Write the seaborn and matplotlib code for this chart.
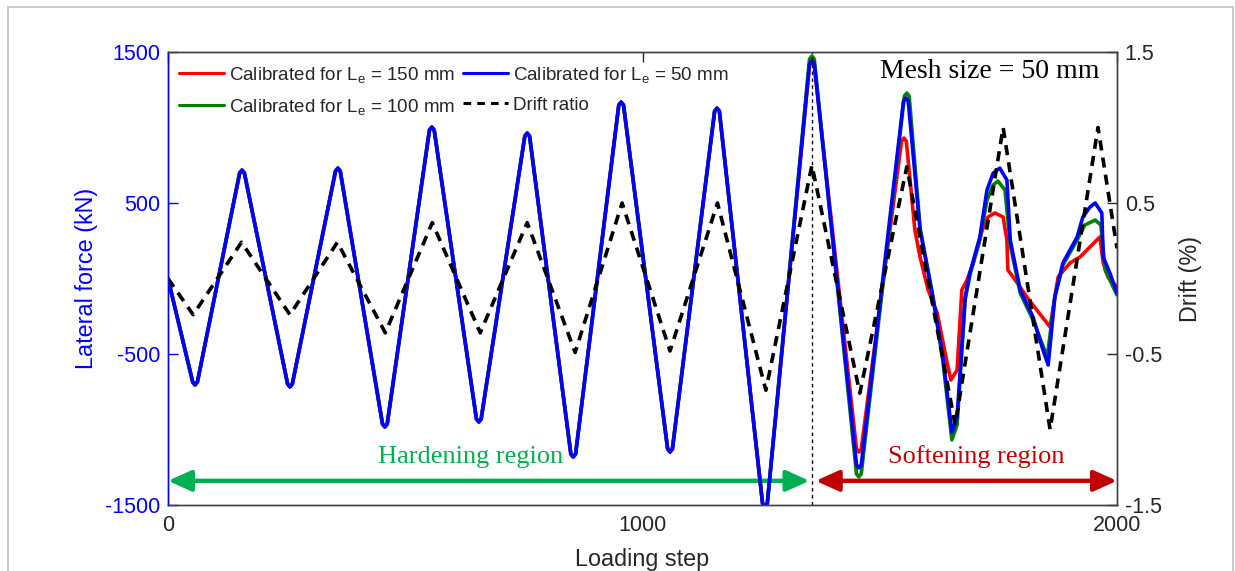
import matplotlib
matplotlib.use("Agg")
import matplotlib.pyplot as plt
import seaborn as sns
from matplotlib.patches import FancyArrowPatch, Rectangle
from matplotlib.lines import Line2D

# ---------------- data ----------------
# hardening region: the three calibrations coincide
hard_steps = [0, 52, 57, 62, 151, 156, 161, 252, 257, 262, 353, 358, 363,
              452, 457, 462, 551, 556, 561, 650, 655, 660, 752, 757, 762,
              849, 854, 859, 950, 955, 960, 1053, 1058, 1063, 1152, 1157, 1162,
              1253, 1258, 1263]
hard_force = [0, -685, -705, -685, 698, 718, 698, -698, -718, -698, 711, 731, 711,
              -963, -983, -963, 983, 1003, 983, -930, -950, -930, 943, 963, 943,
              -1162, -1182, -1162, 1148, 1168, 1148, -1129, -1149, -1129, 1108, 1128, 1108,
              -1490, -1510, -1490]

# softening region, Le = 50 mm (blue)
soft_steps_50 = [1352, 1357, 1362, 1451, 1456, 1461, 1550, 1555, 1560, 1585, 1612, 1633, 1652,
                 1663, 1680, 1690, 1711, 1726, 1739, 1753, 1768, 1775, 1796, 1823, 1844, 1855,
                 1869, 1886, 1901, 1916, 1928, 1943, 1954, 1968, 1971, 1985, 2000]
soft_force_50 = [1423, 1443, 1423, -1234, -1254, -1234, 1175, 1195, 1175, 321, -122, -520, -1016,
                 -917, -122, 36, 275, 586, 698, 731, 652, 255, -76, -255, -473, -573,
                 -122, 103, 189, 275, 407, 473, 500, 434, 142, 36, -96]

# softening region, Le = 100 mm (green)
soft_steps_100 = [1352, 1357, 1362, 1451, 1456, 1461, 1552, 1557, 1562, 1585, 1612, 1633, 1652,
                  1663, 1680, 1690, 1711, 1726, 1739, 1749, 1764, 1775, 1796, 1823, 1853, 1869,
                  1886, 1916, 1932, 1954, 1966, 1975, 2000]
soft_force_100 = [1453, 1473, 1453, -1294, -1314, -1294, 1208, 1228, 1208, 335, -122, -545, -1069,
                  -970, -142, 23, 255, 520, 619, 645, 586, 222, -96, -275, -520, -122,
                  89, 255, 354, 387, 354, 56, -109]

# softening region, Le = 150 mm (red)
soft_steps_150 = [1352, 1357, 1362, 1451, 1456, 1461, 1546, 1551, 1556, 1574, 1585, 1602, 1621,
                  1642, 1650, 1663, 1673, 1684, 1697, 1716, 1728, 1743, 1760, 1768, 1770, 1781,
                  1810, 1831, 1859, 1869, 1876, 1901, 1922, 1964, 1971, 1981, 2000]
soft_force_150 = [1413, 1433, 1413, -1129, -1149, -1129, 910, 930, 910, 321, 142, -76, -228,
                  -559, -672, -606, -76, -10, 103, 321, 407, 434, 407, 255, 56, 10,
                  -122, -209, -321, -122, 10, 103, 142, 275, 103, 10, -56]

# imposed drift ratio (%)
drift_steps = [0, 53, 155, 257, 357, 458, 557, 658, 757, 858, 957, 1058, 1158, 1260, 1357,
               1458, 1557, 1659, 1760, 1859, 1960, 2000]
drift_pct = [0, -0.24, 0.24, -0.24, 0.24, -0.36, 0.37, -0.36, 0.37, -0.49, 0.5, -0.48, 0.5,
             -0.74, 0.75, -0.76, 0.74, -0.97, 1.0, -1.0, 1.0, 0.2]

labels = ["Calibrated for L$_\\mathregular{e}$ = 150 mm",
          "Calibrated for L$_\\mathregular{e}$ = 100 mm",
          "Calibrated for L$_\\mathregular{e}$ = 50 mm",
          "Drift ratio"]
x_ticks = [0, 1000, 2000]
force_ticks = [-1500, -500, 500, 1500]
drift_ticks = [-1.5, -0.5, 0.5, 1.5]
transition_step = 1357

# ---------------- style ----------------
sns.set_theme(style="white")
plt.rcParams['font.family'] = ['Liberation Sans', 'DejaVu Sans']
plt.rcParams['mathtext.fontset'] = 'custom'
plt.rcParams['mathtext.rm'] = 'Liberation Sans'
plt.rcParams['mathtext.it'] = 'Liberation Sans:italic'

RED, GREEN, BLUE = '#FF0000', '#008000', '#0000FF'
GRAY = '#262626'

W, H = 1235, 571
fig = plt.figure(figsize=(W / 100, H / 100), dpi=100)
ax = fig.add_axes([168 / W, 1 - 505 / H, 949 / W, 453 / H])
ax2 = ax.twinx()

lw = 2.6
series = [
    (hard_steps + soft_steps_150, hard_force + soft_force_150, RED),
    (hard_steps + soft_steps_100, hard_force + soft_force_100, GREEN),
    (hard_steps + soft_steps_50, hard_force + soft_force_50, BLUE),
]
for xs, ys, c in series:
    sns.lineplot(x=xs, y=ys, ax=ax, color=c, linewidth=lw, estimator=None,
                 sort=False, legend=False)
    ax.lines[-1].set_solid_joinstyle('round')

sns.lineplot(x=drift_steps, y=drift_pct, ax=ax2, color='black', linewidth=lw,
             estimator=None, sort=False, legend=False)
ax2.lines[-1].set_linestyle((0, (2.8, 2.0)))

ax.set_xlim(0, 2000)
ax.set_ylim(-1500, 1500)
ax2.set_ylim(-1.5, 1.5)
ax.set_xticks(x_ticks)
ax.set_xticklabels([str(t) for t in x_ticks])
ax.set_yticks(force_ticks)
ax.set_yticklabels([str(t) for t in force_ticks])
ax2.set_yticks(drift_ticks)
ax2.set_yticklabels([str(t) for t in drift_ticks])

# ticks and spines
TS = 15.5
ax.tick_params(axis='x', direction='in', length=7, width=1, colors=GRAY,
               labelsize=TS, pad=7.5, top=True)
ax.tick_params(axis='y', direction='in', length=7, width=1, colors=BLUE,
               labelsize=TS, pad=5.5)
ax2.tick_params(axis='y', direction='in', length=7, width=1, colors=GRAY,
                labelsize=TS, pad=5.5)
for a in (ax, ax2):
    for s in a.spines.values():
        s.set_color('#404040')
        s.set_linewidth(1.0)
    a.spines['left'].set_color(BLUE)

LS = 16.8
ax.set_xlabel("Loading step", fontsize=LS, color=GRAY, labelpad=8)
ax.set_ylabel("Lateral force (kN)", fontsize=LS, color=BLUE, labelpad=5)
ax2.set_ylabel("Drift (%)", fontsize=LS, color=GRAY, labelpad=12)

# transition line
ax.axvline(transition_step, color='black', lw=1.0, ls=(0, (2.5, 2.5)))

# region arrows and labels
arrow_y = -1340
for x0, x1, c in [(0, 1352, '#00B050'), (1365, 2000, '#C00000')]:
    arr = FancyArrowPatch((x0, arrow_y), (x1, arrow_y),
                          arrowstyle='<|-|>,head_length=1.0,head_width=0.45',
                          mutation_scale=14, color=c, lw=3.2,
                          shrinkA=0, shrinkB=0, clip_on=False)
    ax.add_patch(arr)
ax.text(638, -1181, "Hardening region", color='#00B050', fontsize=19,
        family='Liberation Serif', ha='center', va='center')
ax.text(1703, -1181, "Softening region", color='#C00000', fontsize=19,
        family='Liberation Serif', ha='center', va='center')

ax2.text(0.982, 0.985, "Mesh size = 50 mm", transform=ax2.transAxes, fontsize=20,
         family='Liberation Serif', ha='right', va='top', color='black')

# legend
handles = [Line2D([], [], color=RED, lw=2.2),
           Line2D([], [], color=GREEN, lw=2.2),
           Line2D([], [], color=BLUE, lw=2.2),
           Line2D([], [], color='black', lw=2.2, ls=(0, (2.5, 2.0)))]
leg = ax2.legend(handles, labels, ncol=2, loc='upper left', frameon=False,
                 fontsize=13.5, handlelength=2.4, handletextpad=0.25,
                 columnspacing=0.45, labelspacing=0.65,
                 bbox_to_anchor=(0.0, 0.997), borderaxespad=0.2)
for t in leg.get_texts():
    t.set_color(GRAY)

# outer light frame
fig.patches.append(Rectangle((8 / W, -0.05), (1233 - 8) / W, 1 - 7 / H + 0.05,
                             transform=fig.transFigure, fill=False,
                             edgecolor='#C0C0C0', lw=1.2))

fig.savefig("out.png", dpi=100)
